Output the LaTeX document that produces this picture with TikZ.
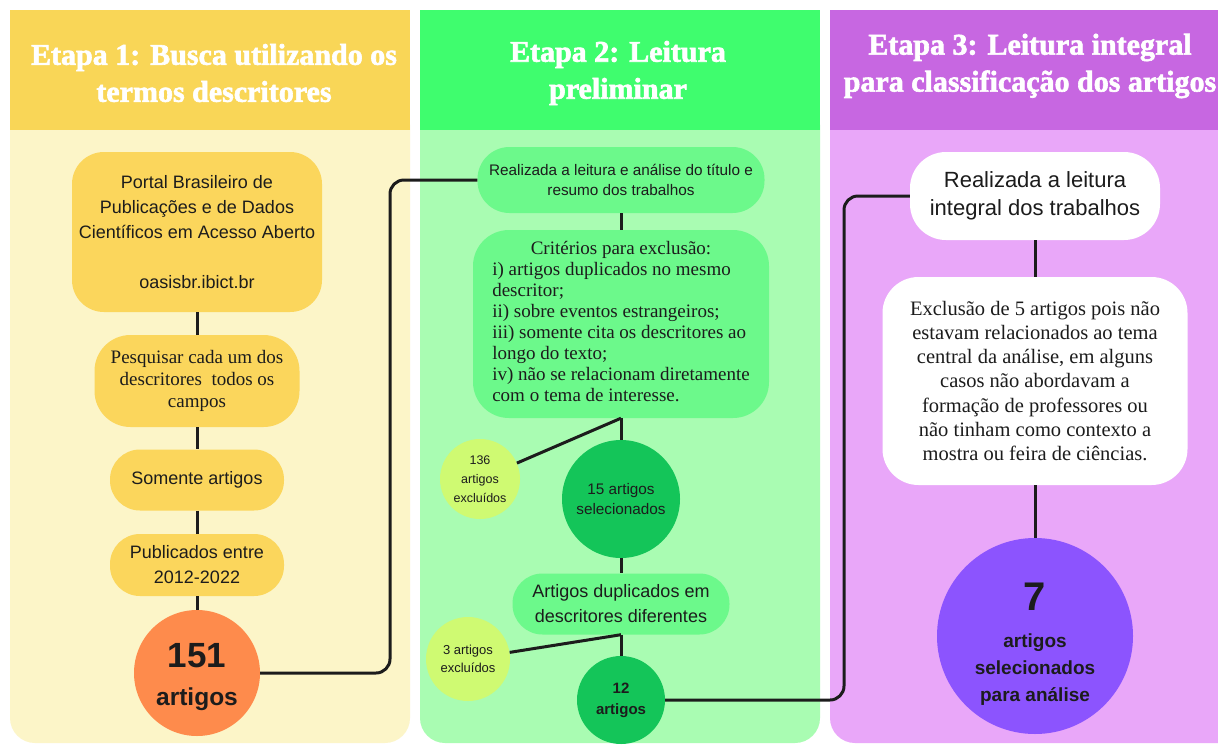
\documentclass[tikz,border=0pt]{standalone}
\usepackage{fontspec}
\setmainfont{Liberation Serif}
\setsansfont{Liberation Sans}
\newfontfamily\headfont{Liberation Serif}[BoldFeatures={FakeBold=2}]
\usepackage{tikz}
\definecolor{ink}{HTML}{1C1C1C}
\definecolor{yhead}{HTML}{F9D657}
\definecolor{ybody}{HTML}{FCF5C8}
\definecolor{yfill}{HTML}{FBD65C}
\definecolor{orng}{HTML}{FE8B4C}
\definecolor{ghead}{HTML}{3FFD6E}
\definecolor{gbody}{HTML}{A9FCB2}
\definecolor{gfill}{HTML}{6CF98B}
\definecolor{gdark}{HTML}{14C559}
\definecolor{lime}{HTML}{CFFA72}
\definecolor{phead}{HTML}{C767E1}
\definecolor{pbody}{HTML}{E9A7F9}
\definecolor{pdisc}{HTML}{8C54FE}
\newcommand{\sz}[2]{\fontsize{#1}{#2}\selectfont}
\tikzstyle{link}=[-, line width=3pt, draw=ink]
\tikzstyle{head}=[inner sep=0pt, text=white, align=center, font=\headfont\sz{30}{37}\bfseries]
\tikzstyle{card}=[rectangle, inner sep=0pt, rounded corners=30pt, text=ink, align=center]
\tikzstyle{disc}=[circle, inner sep=0pt, text=ink, align=center]

\begin{document}
\begin{tikzpicture}[x=1pt,y=-1pt]
				%The frame
				\useasboundingbox (0,0) rectangle (1218,745);
				\clip (0,0) rectangle (1218,745);
				\fill[white] (0,0) rectangle (1218,745);
				
				%The three panels
				\fill[ybody, rounded corners=25pt] (10,100) rectangle (410,743);
				\fill[yhead] (10,10) rectangle (410,130);
				\fill[gbody, rounded corners=25pt] (420,100) rectangle (820,743);
				\fill[ghead] (420,10) rectangle (820,130);
				\fill[pbody, rounded corners=25pt] (830,100) rectangle (1260,743);
				\fill[phead] (830,10) rectangle (1260,130);
				
				%The panel titles
				\draw (214,73) node[head] (h1) {Etapa 1: Busca utilizando os\\termos descritores};
				\draw (618,73) node[head] (h2) {Etapa 2: Leitura\\preliminar};
				\draw (1030,66) node[head] (h3) {Etapa 3: Leitura integral\\para classificação dos artigos};
				
				%The first stage
				\draw (197,232) node[card, fill=yfill, minimum width=250pt, minimum height=160pt, rounded corners=32pt, font=\sffamily\sz{18}{25}] (portal) {Portal Brasileiro de\\Publicações e de Dados\\Científicos em Acesso Aberto\\[25pt]oasisbr.ibict.br};
				\draw (197,381) node[card, fill=yfill, minimum width=205pt, minimum height=92pt, rounded corners=36pt, font=\sz{19}{22}] (search) {Pesquisar cada um dos\\descritores\ \ todos os\\campos};
				\draw (197,480) node[card, fill=yfill, minimum width=174pt, minimum height=61pt, font=\sffamily\sz{18}{25}] (only) {Somente artigos};
				\draw (197,565) node[card, fill=yfill, minimum width=174pt, minimum height=62pt, font=\sffamily\sz{18}{25}] (years) {Publicados entre\\2012-2022};
				\draw (197,673) node[disc, fill=orng, minimum size=126pt, font=\sffamily\bfseries\sz{24.5}{38}] (c151) {\rule{0pt}{33pt}{\sz{35}{38}151}\\artigos};
				
				\draw[link] (portal) -- (search);
				\draw[link] (search) -- (only);
				\draw[link] (only) -- (years);
				\draw[link] (years) -- (c151);
				
				%The second stage
				\draw (621,180) node[card, fill=gfill, minimum width=287pt, minimum height=66pt, rounded corners=32pt, font=\sffamily\sz{15.3}{20}] (read0) {Realizada a leitura e análise do título e\\resumo dos trabalhos};
				\draw (621,324) node[card, fill=gfill, minimum width=296pt, minimum height=188pt, rounded corners=36pt, font=\sz{19}{21}] (crit) {\begin{tabular}{@{}l@{}}\multicolumn{1}{@{}c@{}}{Critérios para exclusão:}\\ i) artigos duplicados no mesmo\\ descritor;\\ ii) sobre eventos estrangeiros;\\ iii) somente cita os descritores ao\\ longo do texto;\\ iv) não se relacionam diretamente\\ com o tema de interesse.\end{tabular}};
				\draw (480,479) node[disc, fill=lime, minimum size=80pt, font=\sffamily\sz{12.5}{18.7}] (c136) {136\\artigos\\excluídos};
				\draw (621,499) node[disc, fill=gdark, minimum size=118pt, font=\sffamily\sz{15.3}{20}] (c15) {15 artigos\\selecionados};
				\draw (621,604) node[card, fill=gfill, minimum width=217pt, minimum height=61pt, font=\sffamily\sz{18}{25}] (dup) {Artigos duplicados em\\descritores diferentes};
				\draw (468,659) node[disc, fill=lime, minimum size=84pt, font=\sffamily\sz{13}{18.5}] (c3) {3 artigos\\excluídos};
				\draw (621,700) node[disc, fill=gdark, minimum size=88pt, font=\sffamily\bfseries\sz{15}{21}] (c12) {12\\artigos};
				
				\draw[link] (read0) -- (crit);
				\draw[link] (crit.south) -- (c15);
				\draw[link] (crit.south) -- (c136);
				\draw[link] (c15) -- (dup);
				\draw[link] (dup.south) -- (c12);
				\draw[link] (dup.south) -- (c3);
				
				%The third stage
				\draw (1035,196) node[card, fill=white, minimum width=250pt, minimum height=88pt, rounded corners=36pt, font=\sffamily\sz{22}{28}] (read1) {Realizada a leitura\\integral dos trabalhos};
				\draw (1035,381) node[card, fill=white, minimum width=305pt, minimum height=208pt, rounded corners=36pt, font=\sz{20.5}{24.2}] (excl) {Exclusão de 5 artigos pois não\\estavam relacionados ao tema\\central da análise, em alguns\\casos não abordavam a\\formação de professores ou\\não tinham como contexto a\\mostra ou feira de ciências.};
				\draw (1035,636) node[disc, fill=pdisc, minimum size=196pt, font=\sffamily\bfseries\sz{19}{27}] (c7) {\rule{0pt}{43pt}{\sz{40}{27}7}\\[10pt]artigos\\selecionados\\para análise};
				
				\draw[link] (read1) -- (excl);
				\draw[link] (excl) -- (c7);
				
				%The stage to stage links
				\coordinate (bend1) at (390,400);
				\coordinate (bend2) at (844,400);
				\draw[link, rounded corners=14pt] (c151.east) -- (c151.east -| bend1) |- (read0.west);
				\draw[link, rounded corners=14pt] (c12.east) -- (c12.east -| bend2) |- (read1.west);
\end{tikzpicture}
\end{document}
